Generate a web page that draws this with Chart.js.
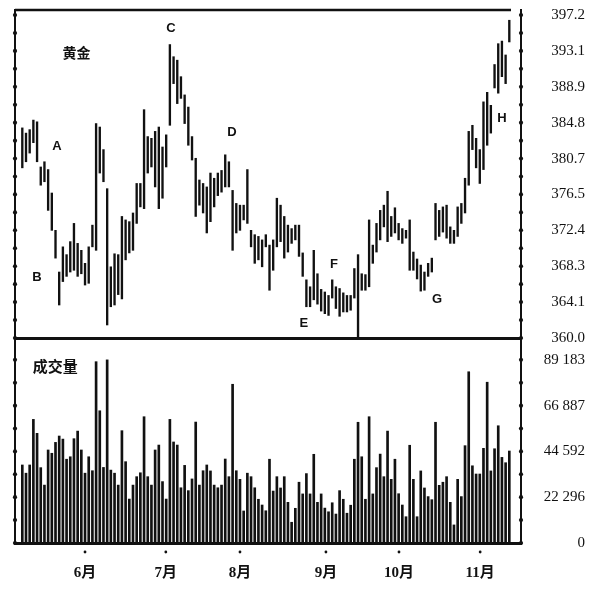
<!DOCTYPE html>
<html>
<head>
<meta charset="utf-8">
<title>黄金</title>
<script src="https://cdn.jsdelivr.net/npm/chart.js@4.4.1/dist/chart.umd.min.js"></script>
<style>
  body { margin: 0; background: #fff; }
  #cadre { position: relative; width: 599px; height: 589px; }
  #cadre canvas { position: absolute; left: 0; top: 0; }
</style>
</head>
<body>
<div id="cadre">
  <canvas id="prixChart" width="599" height="589"></canvas>
  <canvas id="volChart" width="599" height="589"></canvas>
</div>
<script>
// daily bars (one entry per trading day)
const highs = [
  384.2, 383.6, 384.0, 385.1, 384.9, 379.7, 380.3, 379.4, 376.7, 372.4,
  367.6, 370.5, 369.6, 371.1, 373.2, 370.9, 370.1, 368.6, 370.5, 373.0,
  384.7, 384.3, 381.7, 377.2, 368.2, 369.7, 369.6, 374.0, 373.6, 373.4,
  374.4, 377.8, 377.8, 386.3, 383.2, 383.0, 383.8, 384.3, 382.0, 383.4,
  393.8, 392.4, 392.0, 390.1, 388.0, 386.6, 383.2, 380.7, 378.2, 377.8,
  377.4, 379.0, 378.4, 379.0, 379.3, 381.1, 380.3, 377.0, 375.5, 375.3,
  375.3, 379.4, 372.4, 371.9, 371.7, 371.3, 371.9, 370.7, 371.3, 376.1,
  375.3, 374.0, 373.0, 372.6, 373.0, 373.0, 369.8, 366.7, 365.9, 370.1,
  367.4, 365.6, 365.3, 364.9, 366.7, 365.9, 365.7, 365.2, 364.9, 364.9,
  368.0, 369.6, 367.4, 367.3, 373.6, 370.7, 373.2, 374.7, 375.3, 376.9,
  374.0, 375.0, 373.2, 372.6, 372.4, 373.6, 369.9, 369.1, 368.4, 367.6,
  368.6, 369.2, 375.5, 374.7, 375.1, 375.3, 372.8, 372.4, 375.1, 375.5,
  378.4, 383.8, 384.5, 383.0, 381.7, 387.2, 388.3, 386.8, 391.5, 393.9,
  394.2, 392.6, 396.6
];
const lows = [
  379.6, 380.3, 381.3, 382.5, 380.3, 377.6, 378.0, 374.7, 372.4, 369.2,
  363.8, 366.5, 367.1, 367.6, 367.8, 367.1, 367.4, 366.1, 366.3, 370.5,
  370.1, 379.0, 378.0, 361.5, 363.6, 363.8, 365.0, 364.5, 369.0, 369.8,
  370.1, 373.2, 375.1, 374.9, 379.0, 379.7, 377.4, 374.9, 376.1, 379.7,
  384.5, 389.3, 387.0, 387.6, 384.7, 382.2, 380.5, 374.0, 375.3, 374.4,
  372.1, 373.4, 375.1, 376.4, 376.8, 377.4, 377.4, 370.1, 372.1, 372.4,
  373.6, 373.2, 370.5, 368.6, 369.0, 368.2, 370.5, 365.5, 367.8, 370.5,
  371.1, 369.2, 369.9, 370.9, 371.3, 369.4, 367.1, 363.6, 363.6, 364.4,
  363.9, 363.1, 362.8, 362.6, 364.6, 363.4, 362.5, 363.0, 363.0, 363.2,
  364.6, 360.1, 365.5, 365.5, 365.9, 368.6, 369.9, 371.3, 372.8, 371.1,
  371.7, 372.1, 371.3, 370.9, 371.5, 367.8, 367.8, 366.8, 365.4, 365.5,
  367.1, 367.6, 371.3, 371.7, 372.2, 371.5, 370.9, 370.9, 371.7, 373.2,
  374.4, 377.6, 381.7, 379.6, 377.8, 379.4, 382.2, 383.6, 388.8, 388.2,
  390.1, 389.3, 394.1
];
const volumes = [
  38000, 34000, 38000, 60200, 53400, 36700, 28200, 45300, 43700, 49000,
  52100, 50600, 40800, 42000, 50800, 54500, 45300, 34000, 42000, 35200,
  88300, 64400, 36800, 89183, 35500, 34000, 28200, 54700, 39600, 21400,
  28200, 32300, 34200, 61500, 32300, 28200, 45300, 47700, 29900, 21400,
  60200, 49200, 47700, 26900, 37800, 25500, 31200, 58900, 28200, 35200,
  38000, 35100, 28200, 26900, 28200, 40900, 32300, 77300, 35200, 31000,
  15600, 34000, 32300, 26900, 21300, 18500, 15700, 40800, 25300, 32300,
  26800, 32300, 19800, 10100, 16900, 29600, 23900, 33800, 23900, 43200,
  19800, 23900, 17000, 15200, 19600, 14100, 25500, 21300, 14500, 18400,
  40800, 58800, 42000, 21300, 61500, 23900, 36700, 43300, 32300, 54500,
  31000, 40800, 24000, 18500, 12800, 47600, 31000, 12800, 35100, 26800,
  22600, 21100, 58800, 28100, 29600, 32300, 19800, 8800, 31000, 22600,
  47400, 83400, 37600, 33600, 33600, 46100, 78300, 35100, 45900, 57100,
  41700, 39100, 44800
];

const priceLabels = ['360.0', '364.1', '368.3', '372.4', '376.5', '380.7', '384.8', '388.9', '393.1', '397.2'];
const volumeLabels = ['0', '22 296', '44 592', '66 887', '89 183'];
const monthLabels = ['6月', '7月', '8月', '9月', '10月', '11月'];
const monthPos = [17, 38.9, 59, 82.3, 102.1, 124.1];

// letters on the price panel: [text, day, price]
const marks = [
  ['A', 9.4, 382.1], ['B', 4.0, 367.0], ['C', 40.3, 395.7], ['D', 56.8, 383.7],
  ['E', 76.3, 361.7], ['F', 84.5, 368.5], ['G', 112.4, 364.4], ['H', 130.0, 385.3]
];

const NOIR = '#111';
const X_MIN = -1.98, X_MAX = 135.17;
const serif = '"Liberation Serif", "Noto Sans CJK SC", serif';

// dots on the axis lines, like the printed chart (+ top frame line)
const dotsPlugin = {
  id: 'dots',
  afterDraw(chart, args, opts) {
    const ctx = chart.ctx;
    const area = chart.chartArea;
    const y = chart.scales.y;
    ctx.save();
    ctx.fillStyle = NOIR;
    ctx.strokeStyle = NOIR;
    if (opts.topLine) {
      ctx.lineWidth = 2.5;
      ctx.beginPath();
      ctx.moveTo(area.left, area.top);
      ctx.lineTo(area.right - 10, area.top);
      ctx.stroke();
    }
    y.ticks.forEach(t => {
      const py = y.getPixelForValue(t.value);
      [area.left, area.right].forEach(px => {
        ctx.beginPath();
        ctx.arc(px, py, 2.1, 0, Math.PI * 2);
        ctx.fill();
      });
    });
    if (opts.months) {
      const x = chart.scales.x;
      x.ticks.forEach(t => {
        ctx.beginPath();
        ctx.arc(x.getPixelForValue(t.value), area.bottom + 9, 1.4, 0, Math.PI * 2);
        ctx.fill();
      });
    }
    ctx.restore();
  }
};

// texts placed at data positions
const textPlugin = {
  id: 'textes',
  afterDatasetsDraw(chart, args, opts) {
    const ctx = chart.ctx;
    const x = chart.scales.x, y = chart.scales.y;
    ctx.save();
    ctx.fillStyle = NOIR;
    ctx.textAlign = 'center';
    ctx.textBaseline = 'middle';
    opts.items.forEach(it => {
      ctx.font = it.font;
      ctx.fillText(it.text, x.getPixelForValue(it.x), y.getPixelForValue(it.y));
    });
    ctx.restore();
  }
};

function axeGauche() {
  return {
    position: 'left',
    grid: { display: false, drawTicks: false },
    ticks: { display: false },
    border: { display: true, width: 2, color: NOIR },
    afterFit(s) { s.width = 15; }
  };
}

// price panel
const letterItems = marks.map(m => ({ text: m[0], x: m[1], y: m[2], font: 'bold 13px "Liberation Sans", Arial, sans-serif' }));
letterItems.push({ text: '黄金', x: 14.7, y: 392.9, font: 'bold 14px "Noto Sans CJK SC", sans-serif' });

new Chart(document.getElementById('prixChart'), {
  type: 'bar',
  data: {
    datasets: [{
      data: highs.map((h, i) => ({ x: i, y: [lows[i], h] })),
      backgroundColor: NOIR,
      borderWidth: 0,
      barThickness: 1.7,
      xAxisID: 'x',
      yAxisID: 'y'
    }]
  },
  options: {
    responsive: false,
    animation: false,
    layout: { padding: { top: 10, bottom: 251, left: 0, right: 14 } },
    plugins: {
      legend: { display: false },
      tooltip: { enabled: false },
      dots: { months: false, topLine: true },
      textes: { items: letterItems }
    },
    scales: {
      x: {
        type: 'linear', min: X_MIN, max: X_MAX, offset: false,
        grid: { display: false, drawTicks: false },
        ticks: { display: false },
        border: { display: true, width: 3, color: NOIR },
        afterFit(s) { s.height = 0; }
      },
      y: {
        position: 'right',
        min: 360,
        max: 397.78,
        afterBuildTicks(s) {
          const ticks = [];
          for (let k = 0; k <= 18; k++) ticks.push({ value: 360 + k * (397.2 - 360) / 18 });
          s.ticks = ticks;
        },
        ticks: {
          autoSkip: false,
          crossAlign: 'far',
          padding: 0,
          color: NOIR,
          font: { family: serif, size: 15 },
          callback: (v, i) => (i % 2 === 0 ? priceLabels[i / 2] : '')
        },
        // tick marks hidden, their length only pushes the labels right
        grid: { display: false, drawTicks: true, tickLength: 30 },
        border: { display: true, width: 2, color: NOIR },
        afterFit(s) { s.width = 64; }
      },
      yL: axeGauche()
    }
  },
  plugins: [dotsPlugin, textPlugin]
});

// volume panel
new Chart(document.getElementById('volChart'), {
  type: 'bar',
  data: {
    datasets: [{
      data: volumes.map((v, i) => ({ x: i, y: v })),
      backgroundColor: NOIR,
      borderWidth: 0,
      barThickness: 2,
      xAxisID: 'x',
      yAxisID: 'y'
    }]
  },
  options: {
    responsive: false,
    animation: false,
    layout: { padding: { top: 338, bottom: 0, left: 0, right: 14 } },
    plugins: {
      legend: { display: false },
      tooltip: { enabled: false },
      dots: { months: true, topLine: false },
      textes: { items: [{ text: '成交量', x: 8.9, y: 86050, font: 'bold 15px "Noto Sans CJK SC", sans-serif' }] }
    },
    scales: {
      x: {
        type: 'linear', min: X_MIN, max: X_MAX, offset: false,
        afterBuildTicks(s) { s.ticks = monthPos.map(p => ({ value: p })); },
        ticks: {
          autoSkip: false,
          maxRotation: 0,
          padding: 21,
          color: NOIR,
          font: { family: serif, size: 15, weight: 'bold' },
          callback: (v, i) => monthLabels[i]
        },
        grid: { display: false, drawTicks: false },
        border: { display: true, width: 3, color: NOIR },
        afterFit(s) { s.height = 46; }
      },
      y: {
        position: 'right',
        min: 0,
        max: 99835,
        afterBuildTicks(s) {
          const ticks = [];
          for (let k = 0; k <= 8; k++) ticks.push({ value: k * 89183 / 8 });
          s.ticks = ticks;
        },
        ticks: {
          autoSkip: false,
          crossAlign: 'far',
          padding: 0,
          color: NOIR,
          font: { family: serif, size: 15 },
          callback: (v, i) => (i % 2 === 0 ? volumeLabels[i / 2] : '')
        },
        grid: { display: false, drawTicks: true, tickLength: 22 },
        border: { display: true, width: 2, color: NOIR },
        afterFit(s) { s.width = 64; }
      },
      yL: axeGauche()
    }
  },
  plugins: [dotsPlugin, textPlugin]
});
</script>
</body>
</html>
